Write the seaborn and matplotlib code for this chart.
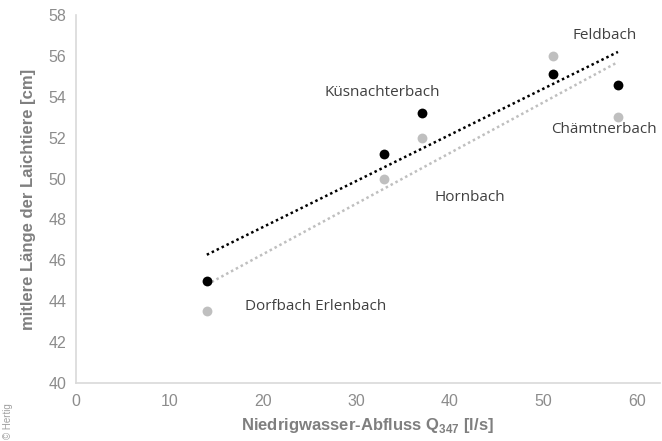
import numpy as np
import pandas as pd
import seaborn as sns
import matplotlib.pyplot as plt

# Abfluss Q347 [l/s] per Bach
abfluss = [14, 33, 37, 51, 58]
# mittlere Länge der Laichtiere, zwei Jahrgänge
laenge_schwarz = [45.0, 51.2, 53.2, 55.1, 54.6]
laenge_grau = [43.5, 50.0, 52.0, 56.0, 53.0]

baeche = ["Dorfbach Erlenbach", "Küsnachterbach", "Hornbach", "Feldbach", "Chämtnerbach"]
label_x = [18.1, 26.6, 38.4, 53.15, 50.9]
label_y = [43.76, 54.2, 49.07, 57.0, 52.4]

x_ticks = [0, 10, 20, 30, 40, 50, 60]
y_ticks = [40, 42, 44, 46, 48, 50, 52, 54, 56, 58]

df = pd.DataFrame({"abfluss": abfluss, "schwarz": laenge_schwarz, "grau": laenge_grau})

sns.set_style("white")
plt.rcParams["font.family"] = ["Liberation Sans", "DejaVu Sans"]

fig = plt.figure(figsize=(6.62, 4.41), dpi=100)
ax = fig.add_axes([0.1148, 0.1315, 0.8822, 0.8345])

grau = "#bfbfbf"
sns.regplot(data=df, x="abfluss", y="grau", ax=ax, ci=None, truncate=True,
            scatter_kws={"s": 50, "color": grau, "alpha": 1, "linewidths": 0, "zorder": 3},
            line_kws={"color": grau, "linestyle": (0, (1, 1.2)), "linewidth": 1.8, "zorder": 2})
sns.regplot(data=df, x="abfluss", y="schwarz", ax=ax, ci=None, truncate=True,
            scatter_kws={"s": 50, "color": "black", "alpha": 1, "linewidths": 0, "zorder": 4},
            line_kws={"color": "black", "linestyle": (0, (1, 1.2)), "linewidth": 1.8, "zorder": 2})

for name, lx, ly in zip(baeche, label_x, label_y):
    ax.text(lx, ly, name, ha="left", va="center", fontsize=11,
            family=["Open Sans", "DejaVu Sans"], color="#404040")

ax.set_xlim(0, 62.5)
ax.set_ylim(40, 58)
ax.set_xticks(x_ticks)
ax.set_yticks(y_ticks)

for side in ["top", "right"]:
    ax.spines[side].set_visible(False)
for side in ["left", "bottom"]:
    ax.spines[side].set_color("#d9d9d9")
    ax.spines[side].set_linewidth(1.2)

ax.tick_params(axis="both", which="major", direction="out", length=4, width=1,
               color="#d9d9d9", labelcolor="#8c8c8c", labelsize=11.5, pad=4)
ax.tick_params(axis="y", pad=3)

ax.set_xlabel("Niedrigwasser-Abfluss Q$_{\\mathregular{347}}$ [l/s]", fontsize=12,
              fontweight="bold", color="#7f7f7f", labelpad=5)
ax.set_ylabel("mitlere Länge der Laichtiere [cm]", fontsize=12,
              fontweight="bold", color="#7f7f7f", labelpad=9)

fig.text(0.004, 0.004, "© Hertig", rotation=90, fontsize=7, color="#a0a0a0",
         ha="left", va="bottom")

fig.savefig("out.png", dpi=100)
